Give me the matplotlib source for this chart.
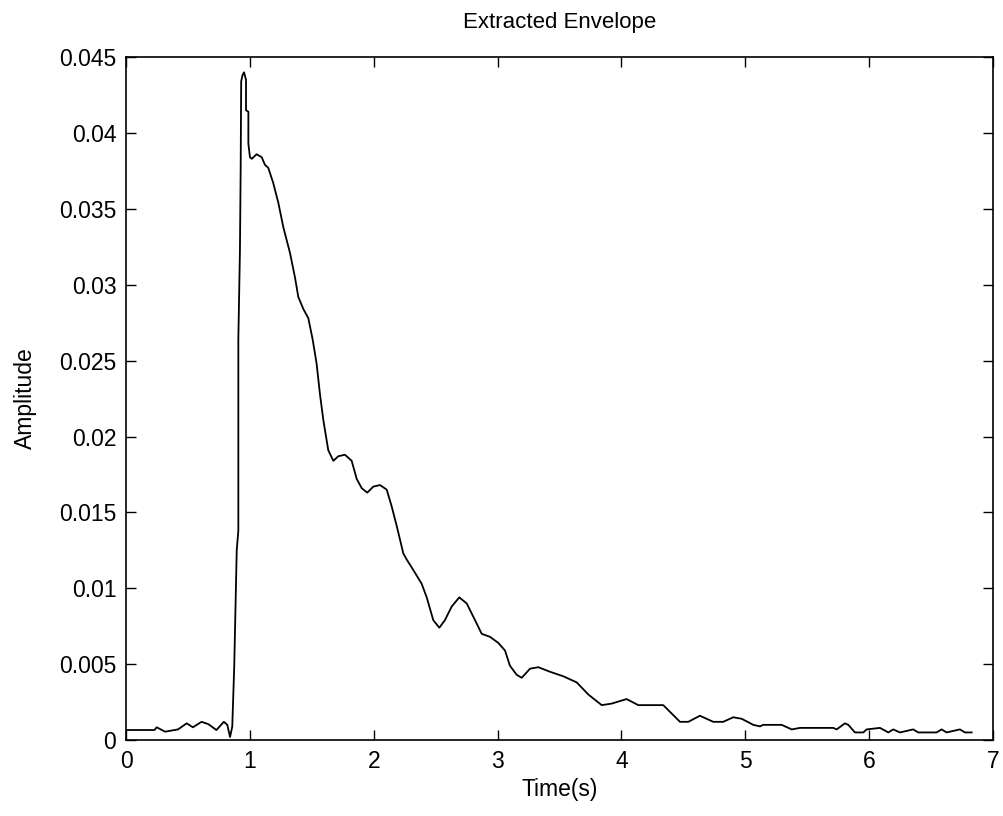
import matplotlib
matplotlib.use("Agg")
import matplotlib.pyplot as plt

time_s = [0.0, 0.23, 0.248, 0.315, 0.42, 0.49, 0.54, 0.61, 0.664, 0.73, 0.79, 0.818, 0.84, 0.858,
          0.874, 0.894, 0.907, 0.907, 0.920, 0.926, 0.930, 0.940, 0.953, 0.969, 0.969, 0.988, 0.988,
          1.001, 1.015, 1.055, 1.096, 1.122, 1.149, 1.189, 1.230, 1.270, 1.324, 1.364, 1.391,
          1.432, 1.472, 1.507, 1.539, 1.566, 1.593, 1.633, 1.674, 1.714, 1.768, 1.822, 1.863,
          1.903, 1.948, 1.997, 2.051, 2.105, 2.145, 2.186, 2.239, 2.266, 2.32, 2.387, 2.428,
          2.481, 2.53, 2.575, 2.63, 2.691, 2.751, 2.818, 2.872, 2.939, 3.006, 3.06, 3.1, 3.154,
          3.195, 3.262, 3.329, 3.423, 3.531, 3.639, 3.733, 3.841, 3.921, 4.042, 4.136, 4.338,
          4.473, 4.54, 4.634, 4.742, 4.822, 4.903, 4.971, 5.065, 5.119, 5.145, 5.294, 5.375,
          5.442, 5.711, 5.738, 5.805, 5.832, 5.886, 5.953, 5.98, 6.088, 6.155, 6.195, 6.249,
          6.356, 6.397, 6.545, 6.585, 6.626, 6.733, 6.774, 6.828]
amplitude = [0.00066, 0.00066, 0.00084, 0.00055, 0.0007, 0.0011, 0.00084, 0.0012, 0.00105, 0.00066,
             0.0012, 0.001, 0.0002, 0.00088,
             0.0049, 0.0125, 0.0138, 0.0264, 0.0323, 0.0378, 0.0434, 0.0438, 0.0440, 0.0435, 0.0415,
             0.0414, 0.0393,
             0.0384, 0.0383, 0.0386, 0.0384, 0.0379, 0.0377, 0.0367, 0.0354, 0.0338, 0.0321, 0.0305,
             0.0292,
             0.0284, 0.0278, 0.0264, 0.0248, 0.0228, 0.0211, 0.0191, 0.0184, 0.0187, 0.0188, 0.0184,
             0.0172,
             0.0166, 0.0163, 0.0167, 0.0168, 0.0165, 0.0154, 0.0141, 0.0123, 0.0119, 0.0112, 0.0103,
             0.0094,
             0.0079, 0.0074, 0.0079, 0.0088, 0.0094, 0.0090, 0.0079, 0.0070, 0.0068, 0.0064, 0.0059,
             0.0049, 0.0043,
             0.0041, 0.0047, 0.0048, 0.0045, 0.0042, 0.0038, 0.0030, 0.0023, 0.0024, 0.0027, 0.0023,
             0.0023,
             0.0012, 0.0012, 0.0016, 0.0012, 0.0012, 0.0015, 0.0014, 0.0010, 0.0009, 0.0010, 0.0010,
             0.0007,
             0.0008, 0.0008, 0.0007, 0.0011, 0.0010, 0.0005, 0.0005, 0.0007, 0.0008, 0.0005, 0.0007,
             0.0005,
             0.0007, 0.0005, 0.0005, 0.0007, 0.0005, 0.0007, 0.0005, 0.0005]

x_ticks = [0, 1, 2, 3, 4, 5, 6, 7]
y_ticks = [0, 0.005, 0.01, 0.015, 0.02, 0.025, 0.03, 0.035, 0.04, 0.045]
y_tick_labels = ["0", "0.005", "0.01", "0.015", "0.02", "0.025", "0.03", "0.035", "0.04", "0.045"]

plt.rcParams['font.family'] = ['Liberation Sans', 'DejaVu Sans']

fig = plt.figure(figsize=(10.04, 8.16), dpi=100)
ax = fig.add_axes([0.1255, 0.0931, 0.8635, 0.8369])
ax.plot(time_s, amplitude, color='black', linewidth=1.3)

ax.set_xlim(0, 7)
ax.set_ylim(0, 0.045)
ax.set_xticks(x_ticks)
ax.set_xticklabels([str(t) for t in x_ticks])
ax.set_yticks(y_ticks)
ax.set_yticklabels(y_tick_labels)
ax.tick_params(direction='in', length=7, width=1.0, top=True, right=True,
               labelsize=16.5, pad=7, colors='black')
for s in ax.spines.values():
    s.set_linewidth(1.2)
    s.set_color('black')

ax.set_title("Extracted Envelope", fontsize=16, pad=21)
ax.set_xlabel("Time(s)", fontsize=16.5, labelpad=4)
ax.set_ylabel("Amplitude", fontsize=16.5, labelpad=16)

fig.savefig("out.png", dpi=100)
